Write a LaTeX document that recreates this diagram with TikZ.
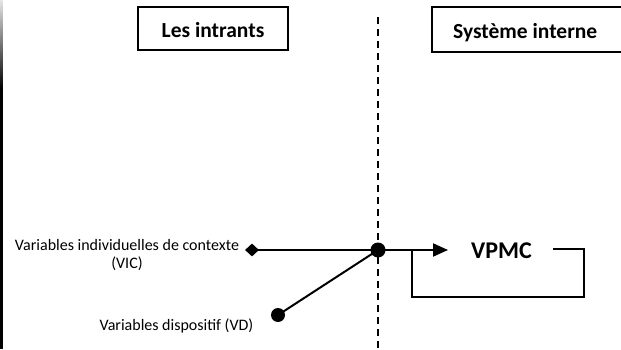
\documentclass[tikz,border=0pt]{standalone}
\usepackage{fontspec}
\setmainfont{Carlito}
\usetikzlibrary{arrows.meta,shapes.geometric}
\begin{document}
\begin{tikzpicture}[x=1pt,y=1pt,
  boxst/.style={draw, line width=1.6pt, font=\bfseries\fontsize{21.5}{24}\selectfont, inner sep=0pt, text height=19pt, text depth=0pt},
  hdrtext/.style={font=\bfseries\fontsize{21.5}{24}\selectfont, inner sep=0pt, text height=19pt, text depth=0pt},
  lbl/.style={font=\fontsize{16}{18.5}\selectfont, inner sep=0pt},
  dotst/.style={circle, fill=black, inner sep=0pt, minimum size=#1},
  conn/.style={line width=2pt},
  sepline/.style={line width=1.8pt, dash pattern=on 7pt off 5pt}
  ]
\useasboundingbox (0,0) rectangle (621,349);
\clip (0,0) rectangle (621,349);
\fill[white] (0,0) rectangle (621,349);
% left edge
\shade[top color=gray!20, bottom color=black] (0,349) rectangle (2.5,260);
\fill[black] (0,0) rectangle (2.5,260.5);
% header boxes
\node[boxst, minimum width=150pt, minimum height=43pt] (lbox) at (213,320.5) {Les intrants};
\node[hdrtext, anchor=west] (rbox) at (453,319.5) {Système interne};
\coordinate (rtl) at (432,342);
\coordinate (rbl) at (432,297);
\coordinate (rtr) at (640,342);
\coordinate (rbr) at (640,297);
\draw[line width=1.6pt] (rtr) -- (rtl) -- (rbl) -- (rbr);
% separator
\coordinate (sept) at (378,332);
\coordinate (sepb) at (378,-3);
\draw[sepline] (sept) -- (sepb);
% nodes
\node[diamond, fill=black, inner sep=0pt, minimum width=14pt, minimum height=13pt] (vic) at (252,99) {};
\node[dotst=15pt] (junc) at (378,99) {};
\node[dotst=14pt] (vd) at (278,34) {};
\coordinate (tip) at (448,99);
\node[font=\bfseries\fontsize{24}{28}\selectfont, anchor=base, inner sep=0pt] (vpmc) at (501.5,91) {VPMC};
\coordinate (la) at (553,100);
\coordinate (lc) at (584,52);
\coordinate (lb) at (412,99);
% connectors
\draw[conn, -{Triangle[length=15pt,width=13pt]}] (vic.center) -- (junc.center) -- (tip);
\draw[conn] (vd.center) -- (junc.center);
\draw[line width=1.6pt] (la) -| (lc) -| (lb);
% labels
\node[lbl, align=center, anchor=north] (vicl) at (127,110) {Variables individuelles de contexte\\(VIC)};
\node[lbl, anchor=base] (vdl) at (176.5,18.3) {Variables dispositif (VD)};
\end{tikzpicture}
\end{document}
